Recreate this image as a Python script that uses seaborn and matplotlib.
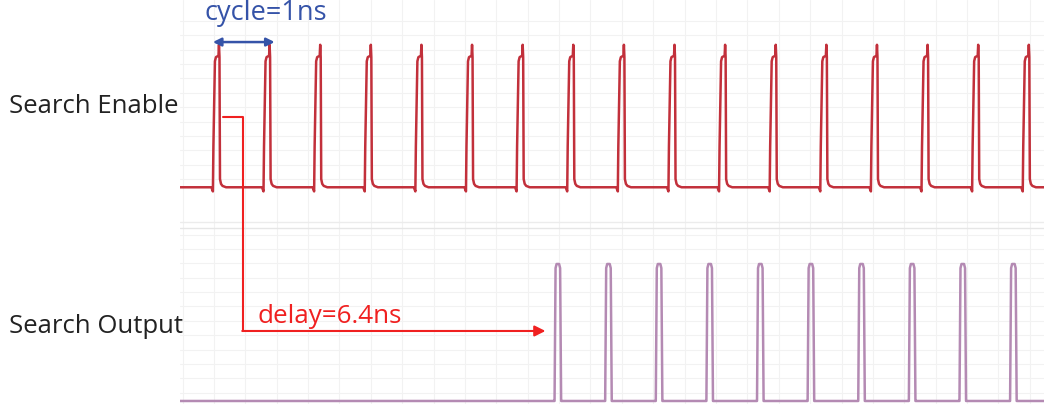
import numpy as np
import pandas as pd
import matplotlib
matplotlib.use("Agg")
import matplotlib.pyplot as plt
import seaborn as sns

# ---- data (times in ns) ----
enable_pulse_starts = [0, 1, 2, 3, 4, 5, 6, 7, 8, 9, 10, 11, 12, 13, 14, 15, 16]
output_pulse_starts = [6.75, 7.75, 8.75, 9.75, 10.75, 11.75, 12.75, 13.75, 14.75, 15.75]
trace_start = -0.65
trace_end = 16.5

# pulse shape of each trace: offset from the rising edge (ns) and level (0..1)
enable_shape_dt = [-0.03, 0.0, 0.01, 0.04, 0.06, 0.11, 0.12, 0.13, 0.14, 0.16, 0.19, 0.26]
enable_shape_v = [0.0, -0.03, 0.30, 0.92, 0.95, 0.96, 1.04, 0.95, 0.06, 0.025, 0.01, 0.0]
output_shape_dt = [-0.02, 0.0, 0.02, 0.04, 0.09, 0.11, 0.13, 0.16]
output_shape_v = [0.0, 0.0, 0.97, 1.0, 1.0, 0.97, 0.0, 0.0]

signals = ["Search Enable", "Search Output"]
lane_offsets = [1.56, 0.0]
colors = {"Search Enable": "#c2303b", "Search Output": "#b48ab3"}

cycle_label = "cycle=1ns"
delay_label = "delay=6.4ns"


def build_trace(name, starts, dts, vs, offset):
    t = [trace_start]
    v = [0.0]
    for s in starts:
        for d, lv in zip(dts, vs):
            t.append(s + d)
            v.append(lv)
    t.append(trace_end)
    v.append(0.0)
    return pd.DataFrame({"t": t, "level": np.array(v) + offset, "signal": name})


df = pd.concat([
    build_trace(signals[0], enable_pulse_starts, enable_shape_dt, enable_shape_v, lane_offsets[0]),
    build_trace(signals[1], output_pulse_starts, output_shape_dt, output_shape_v, lane_offsets[1]),
], ignore_index=True)

sns.set_theme(style="white")
plt.rcParams["font.family"] = ["Open Sans", "DejaVu Sans"]

W, H, DPI = 1044, 404, 100
fig = plt.figure(figsize=(W / DPI, H / DPI), dpi=DPI)
ax = fig.add_axes([180 / W, 0, 1 - 180 / W, 1])

# faint background grid
for gx in np.arange(-0.6, 16.6, 0.62):
    ax.axvline(gx, color="#f2f2f2", lw=0.8, zorder=0)
for gy in np.arange(0.06, 1.28, 0.105):
    ax.axhline(gy, color="#f2f2f2", lw=0.8, zorder=0)
for gy in np.arange(1.62, 2.85, 0.105):
    ax.axhline(gy, color="#f2f2f2", lw=0.8, zorder=0)
ax.axhline(1.26, color="#e6e6e6", lw=1.0, zorder=0)
ax.axhline(1.31, color="#ececec", lw=1.0, zorder=0)

sns.lineplot(data=df, x="t", y="level", hue="signal", palette=colors,
             sort=False, estimator=None, lw=1.8, legend=False, ax=ax)

ax.set_xlim(trace_start, 16.42)
ax.set_ylim(-0.022, 2.927)
ax.set_xticks([])
ax.set_yticks([])
ax.set_xlabel("")
ax.set_ylabel("")
for sp in ax.spines.values():
    sp.set_visible(False)

# lane labels
label_y = [2.153, 0.547]
for name, y in zip(signals, label_y):
    ax.text(-4.02, y, name, ha="left", va="center", fontsize=18.5,
            color="#222222", clip_on=False)

# cycle annotation
blue = "#3553a8"
ax.annotate("", xy=(0.0, 2.62), xytext=(1.22, 2.62),
            arrowprops=dict(arrowstyle="<|-|>", color=blue, lw=1.8,
                            mutation_scale=12, shrinkA=0, shrinkB=0))
ax.text(1.04, 2.83, cycle_label, ha="center", va="center", fontsize=19.5, color=blue)

# delay annotation
red = "#f02020"
ax.plot([0.2, 0.59, 0.59], [2.073, 2.073, 0.511], color=red, lw=1.5)
ax.annotate("", xy=(6.57, 0.511), xytext=(0.58, 0.511),
            arrowprops=dict(arrowstyle="-|>", color=red, lw=1.5,
                            mutation_scale=16, shrinkA=0, shrinkB=0))
ax.text(0.89, 0.62, delay_label, ha="left", va="center", fontsize=18.7, color=red)

fig.savefig("out.png", dpi=DPI)
